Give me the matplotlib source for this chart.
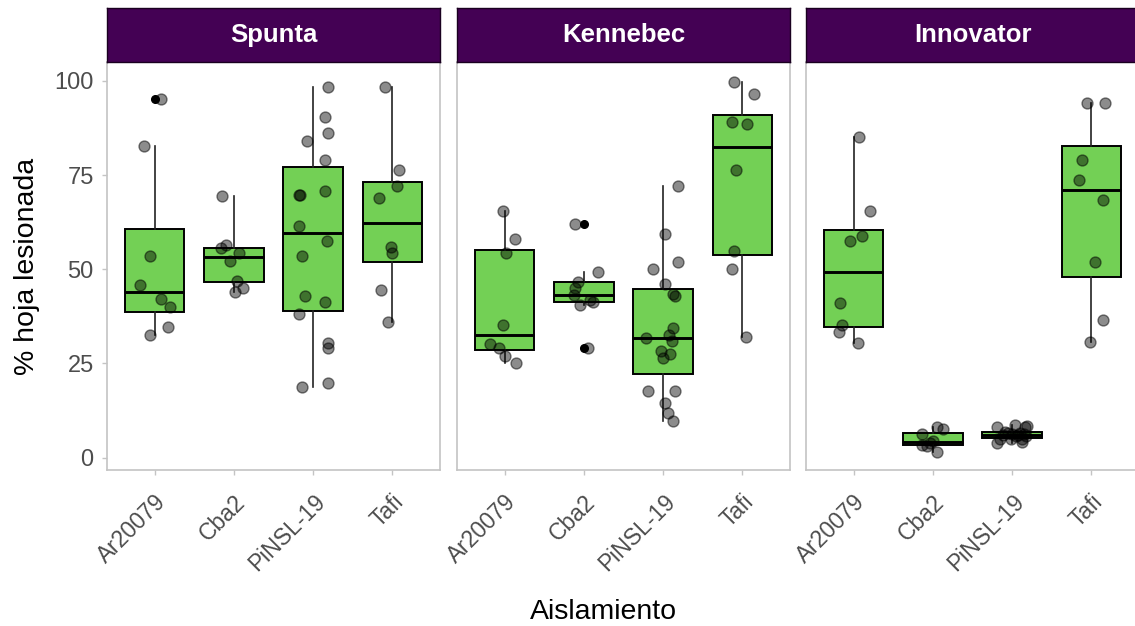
import matplotlib
matplotlib.use("Agg")
import matplotlib.pyplot as plt
from matplotlib.transforms import ScaledTranslation

plt.rcParams["font.family"] = ["Liberation Sans", "DejaVu Sans"]

# Cultivars (facets) and isolates (x categories)
cultivars = ["Spunta", "Kennebec", "Innovator"]
isolates = ["Ar20079", "Cba2", "PiNSL-19", "Tafi"]

# % leaf area with lesions, per cultivar and isolate
spunta_ar20079 = [95.3, 82.6, 53.5, 45.8, 42.2, 40.0, 34.7, 32.5]
spunta_cba2 = [69.5, 56.4, 55.5, 54.3, 52.1, 47.0, 44.9, 44.0]
spunta_pinsl19 = [98.4, 90.4, 86.2, 83.9, 79.1, 70.7, 69.8, 69.6, 61.5, 57.5,
                  53.5, 43.0, 41.3, 38.2, 30.5, 29.2, 19.8, 18.8]
spunta_tafi = [98.4, 76.4, 72.0, 68.9, 55.8, 54.4, 44.4, 36.0]

kennebec_ar20079 = [65.5, 58.0, 54.3, 35.1, 30.1, 29.2, 26.9, 25.2]
kennebec_cba2 = [61.9, 49.3, 46.6, 45.0, 43.1, 41.8, 41.2, 40.5, 29.2]
kennebec_pinsl19 = [72.0, 59.3, 51.9, 50.0, 46.2, 43.5, 42.9, 34.4, 32.5, 31.8,
                    30.9, 28.2, 27.4, 26.5, 17.6, 17.6, 14.5, 11.9, 9.8]
kennebec_tafi = [99.7, 96.6, 89.1, 88.6, 76.4, 54.9, 50.0, 32.0]

innovator_ar20079 = [85.1, 65.4, 58.8, 57.4, 40.9, 35.1, 33.4, 30.3]
innovator_cba2 = [8.2, 7.7, 6.3, 4.4, 3.8, 3.4, 3.0, 1.4]
innovator_pinsl19 = [8.6, 8.5, 8.2, 8.0, 6.7, 6.6, 6.5, 6.3, 6.2, 6.0, 6.0, 5.8,
                     5.6, 5.0, 5.0, 4.8, 4.0, 3.8]
innovator_tafi = [94.0, 94.0, 79.1, 73.8, 68.5, 51.9, 36.5, 30.7]

# Horizontal jitter of each observation (category units)
spunta_ar20079_jit = [0.08, -0.13, -0.06, -0.19, 0.08, 0.19, 0.17, -0.06]
spunta_cba2_jit = [-0.15, -0.10, -0.16, 0.07, -0.05, 0.04, 0.11, 0.01]
spunta_pinsl19_jit = [0.19, 0.15, 0.19, -0.08, 0.15, 0.15, -0.18, -0.17, -0.18, 0.17,
                      -0.14, -0.10, 0.15, -0.18, 0.19, 0.19, 0.19, -0.14]
spunta_tafi_jit = [-0.10, 0.08, 0.06, -0.17, -0.02, 0.00, -0.15, -0.06]

kennebec_ar20079_jit = [-0.02, 0.13, 0.02, -0.02, -0.19, -0.07, 0.00, 0.15]
kennebec_cba2_jit = [-0.11, 0.18, -0.07, -0.11, -0.13, 0.08, 0.12, -0.05, 0.05]
kennebec_pinsl19_jit = [0.19, 0.02, 0.19, -0.13, 0.02, 0.13, 0.15, 0.13, 0.08, -0.21,
                        0.11, -0.03, 0.09, 0.00, -0.19, 0.15, 0.02, 0.06, 0.13]
kennebec_tafi_jit = [-0.11, 0.14, -0.13, 0.06, -0.08, -0.11, -0.13, 0.04]

innovator_ar20079_jit = [0.07, 0.21, 0.11, -0.04, -0.17, -0.15, -0.19, 0.06]
innovator_cba2_jit = [0.05, 0.13, -0.14, 0.00, -0.04, -0.14, -0.08, 0.05]
innovator_pinsl19_jit = [0.04, 0.19, -0.19, 0.16, -0.09, 0.10, -0.05, 0.15, 0.00, 0.08,
                         -0.12, 0.18, 0.05, -0.15, 0.12, -0.02, 0.12, -0.19]
innovator_tafi_jit = [-0.06, 0.17, -0.12, -0.16, 0.15, 0.04, 0.15, -0.02]

y_ticks = [0, 25, 50, 75, 100]

values = {
    "Spunta": [spunta_ar20079, spunta_cba2, spunta_pinsl19, spunta_tafi],
    "Kennebec": [kennebec_ar20079, kennebec_cba2, kennebec_pinsl19, kennebec_tafi],
    "Innovator": [innovator_ar20079, innovator_cba2, innovator_pinsl19, innovator_tafi],
}
jitters = {
    "Spunta": [spunta_ar20079_jit, spunta_cba2_jit, spunta_pinsl19_jit, spunta_tafi_jit],
    "Kennebec": [kennebec_ar20079_jit, kennebec_cba2_jit, kennebec_pinsl19_jit, kennebec_tafi_jit],
    "Innovator": [innovator_ar20079_jit, innovator_cba2_jit, innovator_pinsl19_jit, innovator_tafi_jit],
}

W, H = 1135, 626
fig = plt.figure(figsize=(W / 100, H / 100), dpi=100)

panel_left = [107, 457, 806]
panel_w = 333
panel_top, panel_bottom = 62, 470
strip_top = 8

box_fill = "#73D055"
strip_fill = "#440154"
border_col = "#C4C4C4"
text_grey = "#4D4D4D"

positions = list(range(1, len(isolates) + 1))

for i, cv in enumerate(cultivars):
    ax = fig.add_axes([panel_left[i] / W, 1 - panel_bottom / H,
                       panel_w / W, (panel_bottom - panel_top) / H])
    ax.boxplot(values[cv], positions=positions, widths=0.75, whis=1.5,
               patch_artist=True, showcaps=False,
               boxprops=dict(facecolor=box_fill, edgecolor="black", linewidth=1.4),
               medianprops=dict(color="black", linewidth=2.1),
               whiskerprops=dict(color="#222222", linewidth=1.2),
               flierprops=dict(marker="o", markerfacecolor="black",
                               markeredgecolor="black", markersize=5.5),
               zorder=2)
    for p, vals, jit in zip(positions, values[cv], jitters[cv]):
        ax.scatter([p + j for j in jit], vals, s=62,
                   facecolor=(0, 0, 0, 0.45), edgecolor=(0, 0, 0, 0.5),
                   linewidth=1.0, zorder=3)

    ax.set_xlim(0.4, 4.6)
    ax.set_ylim(-3.3, 105.0)
    ax.set_yticks(y_ticks)
    ax.set_xticks(positions)
    ax.set_xticklabels(isolates, rotation=45, ha="right", va="top",
                       rotation_mode="anchor", fontsize=16.5, color=text_grey)
    for lbl in ax.get_xticklabels():
        lbl.set_transform(lbl.get_transform() +
                          ScaledTranslation(0.12, 0, fig.dpi_scale_trans))
    ax.tick_params(axis="x", length=3.6, width=1.0, color=border_col, pad=11)
    if i == 0:
        ax.tick_params(axis="y", length=3.6, width=1.0, color=border_col,
                       pad=6, labelsize=17, labelcolor=text_grey)
    else:
        ax.tick_params(axis="y", length=0, labelleft=False)
    for sp in ax.spines.values():
        sp.set_color(border_col)
        sp.set_linewidth(1.2)

    sax = fig.add_axes([panel_left[i] / W, 1 - panel_top / H,
                        panel_w / W, (panel_top - strip_top) / H])
    sax.set_facecolor(strip_fill)
    sax.set_xticks([])
    sax.set_yticks([])
    for sp in sax.spines.values():
        sp.set_color("#1a0020")
        sp.set_linewidth(1.0)
    sax.text(0.5, 0.5, cv, transform=sax.transAxes, ha="center", va="center",
             color="white", fontsize=18.5, fontweight="bold")

fig.text(27 / W, 1 - 266 / H, "% hoja lesionada", rotation=90,
         ha="center", va="center", fontsize=20.5, color="black")
fig.text(603 / W, 1 - 619 / H, "Aislamiento", ha="center", va="baseline",
         fontsize=20.5, color="black")

fig.savefig("out.png", dpi=100)
